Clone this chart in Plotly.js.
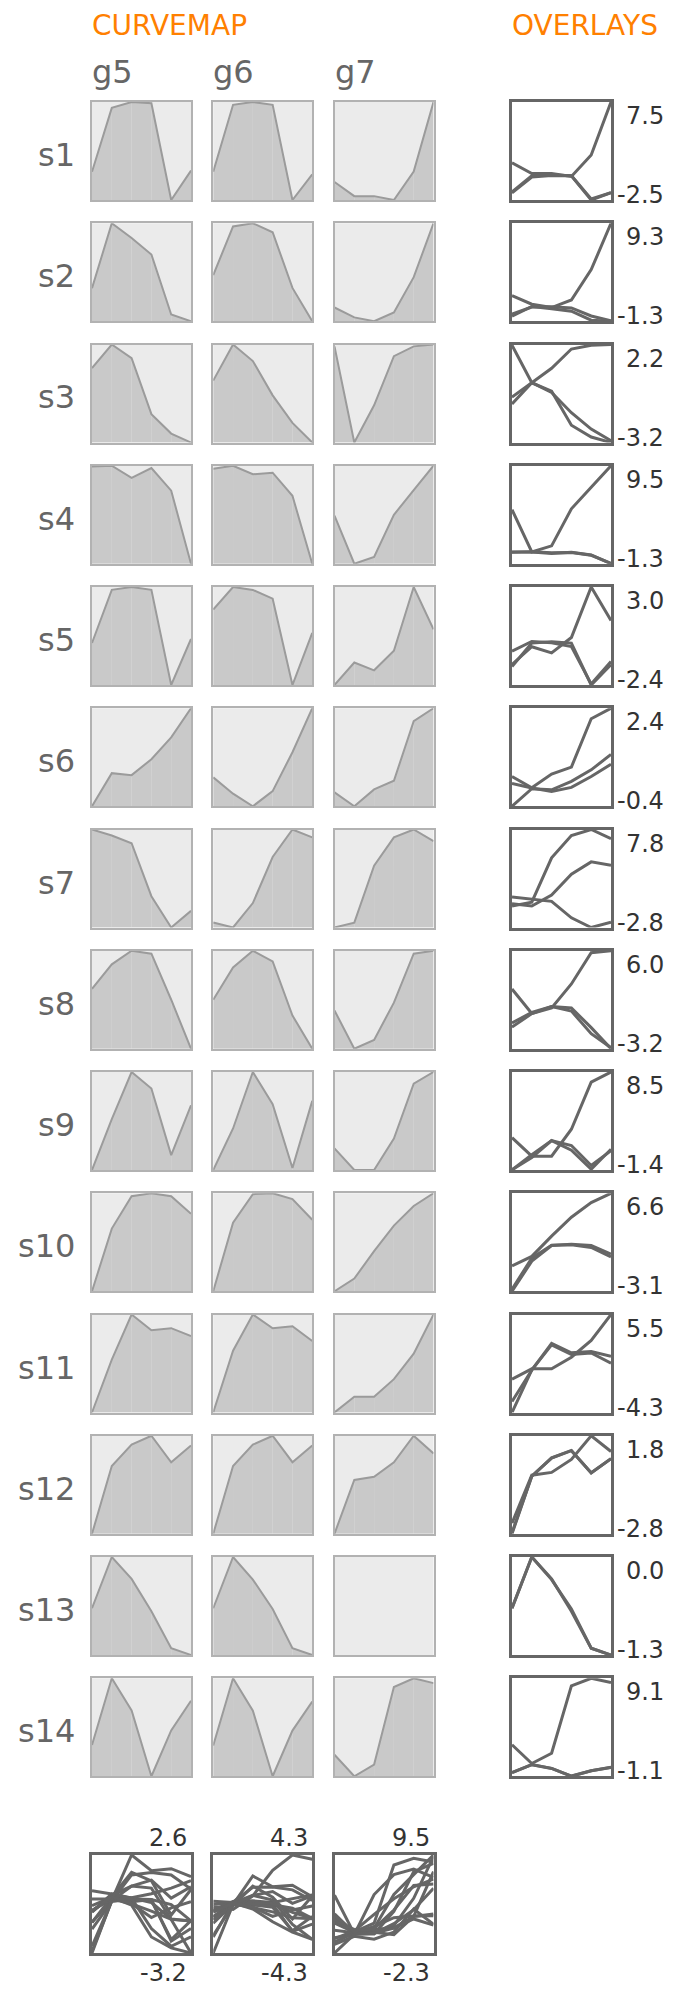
<!DOCTYPE html>
<html><head><meta charset="utf-8">
<script src="https://cdn.plot.ly/plotly-3.0.1.min.js"></script>
<style>html,body{margin:0;padding:0;background:#fff}</style>
</head><body><div id="chart" style="width:676px;height:1989px"></div>
<script>
const samples = ['s1','s2','s3','s4','s5','s6','s7','s8','s9','s10','s11','s12','s13','s14'];
const genes = ['g5','g6','g7'];
const xs = [0,1,2,3,4,5];
const g5 = [
  [-1.78,-0.15,0.0,-0.03,-2.5,-1.75],
  [-0.76,0.3,0.06,-0.21,-1.19,-1.3],
  [-0.7,0.09,-0.37,-2.25,-2.9,-3.2],
  [-0.01,0.0,-0.16,-0.03,-0.33,-1.3],
  [-1.38,-0.09,-0.02,-0.09,-2.4,-1.28],
  [-0.4,0.1,0.07,0.31,0.64,1.08],
  [0.49,0.29,0.03,-1.75,-2.8,-2.24],
  [-0.78,0.21,0.76,0.64,-1.22,-3.2],
  [-1.4,0.14,1.57,1.07,-0.95,0.56],
  [-3.1,-0.12,1.42,1.56,1.42,0.58],
  [-3.2,-0.07,2.6,1.67,1.79,1.32],
  [-2.8,-0.1,0.76,1.11,0.05,0.72],
  [-0.68,0.0,-0.29,-0.72,-1.21,-1.3],
  [-0.71,0.12,-0.28,-1.1,-0.53,-0.16]
];
const g6 = [
  [-1.69,-0.02,0.05,-0.02,-2.4,-1.76],
  [-0.53,0.23,0.28,0.14,-0.73,-1.25],
  [-1.08,0.1,-0.44,-1.56,-2.46,-3.1],
  [-0.02,0.02,-0.09,-0.07,-0.37,-1.25],
  [-0.54,0.0,-0.07,-0.28,-2.35,-1.1],
  [0.25,0.12,0.02,0.14,0.45,0.8],
  [-0.23,-0.47,0.72,2.96,4.3,3.92],
  [-1.17,0.1,0.76,0.34,-1.79,-3.1],
  [-1.38,-0.13,1.57,0.6,-1.32,0.7],
  [-2.9,0.18,1.46,1.5,1.24,0.31],
  [-4.3,-0.04,2.46,1.51,1.65,0.63],
  [-2.75,-0.09,0.75,1.1,0.06,0.72],
  [-0.68,0.0,-0.3,-0.69,-1.21,-1.3],
  [-0.71,0.1,-0.29,-1.08,-0.53,-0.18]
];
const g7 = [
  [1.3,0.2,0.2,-0.1,2.1,7.5],
  [1.46,0.54,0.18,1.0,4.28,9.3],
  [2.16,0.09,0.89,1.95,2.16,2.2],
  [4.66,0.0,0.67,4.75,7.13,9.5],
  [-1.27,-0.29,-0.63,0.22,3.0,1.16],
  [0.45,0.13,0.52,0.72,2.1,2.4],
  [-0.47,-0.06,4.74,7.14,7.8,6.81],
  [2.41,0.11,0.64,2.88,5.82,6.0],
  [1.87,0.0,0.0,2.72,7.48,8.5],
  [-0.58,0.35,2.36,4.23,5.67,6.6],
  [-0.97,0.07,0.07,1.23,2.91,5.5],
  [-2.3,-0.05,0.08,0.69,1.8,1.06],
  [null,null,null,null,null,null],
  [2.18,0.23,1.29,8.3,9.1,8.66]
];
const series = [g5, g6, g7];

const W = 676, H = 1989;
const colX = [92, 213.25, 334.5];
const cellW = 99, cellH = 98;
const ovX = 512;
const rowY = i => 102 + 121.25 * i;
const botY = 1855;

const CELL_BG = '#ebebeb', FILL = '#c9c9c9', CURVE = '#9b9b9b', CELL_BORDER = '#b2b2b2';
const OV = '#666666';
const LABEL = '#666666', NUM = '#333333', HEAD = '#ff8000';
const FONT = 'DejaVu Sans';

const layout = {
  width: W, height: H, margin: {l:0, r:0, t:0, b:0},
  showlegend: false, paper_bgcolor: '#ffffff', plot_bgcolor: 'rgba(0,0,0,0)',
  shapes: [], annotations: [], hovermode: false
};
const traces = [];
let n = 0;

function vals(a) { return a.filter(v => v !== null && v !== undefined); }

function addAxes(x0, y0, w, h, yr, lc, lw) {
  n++;
  const s = n === 1 ? '' : String(n);
  const common = {showticklabels:false, ticks:'', showgrid:false, zeroline:false,
    showline:true, mirror:true, linecolor:lc, linewidth:lw, fixedrange:true};
  layout['xaxis' + s] = Object.assign({domain:[x0 / W, (x0 + w) / W], range:[0, 5], anchor:'y' + s}, common);
  layout['yaxis' + s] = Object.assign({domain:[1 - (y0 + h) / H, 1 - y0 / H], range:yr, anchor:'x' + s}, common);
  return s;
}

function ann(text, x, y, xa, ya, size, color, family) {
  layout.annotations.push({text:text, x:x / W, y:1 - y / H, xref:'paper', yref:'paper',
    xanchor:xa, yanchor:ya, showarrow:false,
    font:{family:family || FONT, size:size, color:color}});
}

// headings
ann('CURVEMAP', colX[0] - 2, 26, 'left', 'middle', 28, HEAD);
ann('OVERLAYS', ovX - 2, 26, 'left', 'middle', 28, HEAD);
genes.forEach((g, c) => ann(g, colX[c] - 2, 72, 'left', 'middle', 32, LABEL));

// curvemap cells
samples.forEach((sName, i) => {
  const y0 = rowY(i);
  ann(sName, 77, y0 + cellH / 2 + 4, 'right', 'middle', 32, LABEL);
  series.forEach((ser, c) => {
    const v = ser[i];
    const vv = vals(v);
    const has = vv.length > 0 && Math.max(...vv) > Math.min(...vv);
    const mn = has ? Math.min(...vv) : 0, mx = has ? Math.max(...vv) : 1;
    const s = addAxes(colX[c], y0, cellW, cellH, [mn, mx], CELL_BORDER, 2);
    layout.shapes.push({type:'rect', xref:'x' + s + ' domain', yref:'y' + s + ' domain',
      x0:0, x1:1, y0:0, y1:1, fillcolor:CELL_BG, line:{width:0}, layer:'below'});
    if (has) {
      for (let k = 0; k < xs.length - 1; k++) {
        traces.push({x:[xs[k], xs[k + 1], xs[k + 1], xs[k]], y:[mn, mn, v[k + 1], v[k]],
          mode:'lines', fill:'toself', fillcolor:FILL, line:{width:0}, hoverinfo:'skip',
          xaxis:'x' + s, yaxis:'y' + s});
      }
    }
    traces.push({x:xs, y:v, mode:'lines', line:{color:CURVE, width:2}, hoverinfo:'skip',
      xaxis:'x' + s, yaxis:'y' + s});
  });
  // row overlay
  const all = vals([].concat(g5[i], g6[i], g7[i]));
  const rmn = Math.min(...all), rmx = Math.max(...all);
  const s = addAxes(ovX, y0, cellW, cellH, [rmn, rmx], OV, 3);
  series.forEach(ser => {
    traces.push({x:xs, y:ser[i], mode:'lines', line:{color:OV, width:3}, hoverinfo:'skip',
      xaxis:'x' + s, yaxis:'y' + s});
  });
  ann(rmx.toFixed(1), 666, y0 + 14, 'right', 'middle', 24, NUM);
  ann(rmn.toFixed(1), 666, y0 + cellH - 5, 'right', 'middle', 24, NUM);
});

// column overlays
series.forEach((ser, c) => {
  const all = vals([].concat(...ser));
  const cmn = Math.min(...all), cmx = Math.max(...all);
  const s = addAxes(colX[c], botY, cellW, cellH, [cmn, cmx], OV, 3);
  ser.forEach(row => {
    traces.push({x:xs, y:row, mode:'lines', line:{color:OV, width:3}, hoverinfo:'skip',
      xaxis:'x' + s, yaxis:'y' + s});
  });
  ann(cmx.toFixed(1), colX[c] + cellW - 2, botY - 17, 'right', 'middle', 24, NUM);
  ann(cmn.toFixed(1), colX[c] + cellW - 2, botY + cellH + 20, 'right', 'middle', 24, NUM);
});

Plotly.newPlot('chart', traces, layout, {staticPlot:true, displayModeBar:false});
</script>
</body></html>
